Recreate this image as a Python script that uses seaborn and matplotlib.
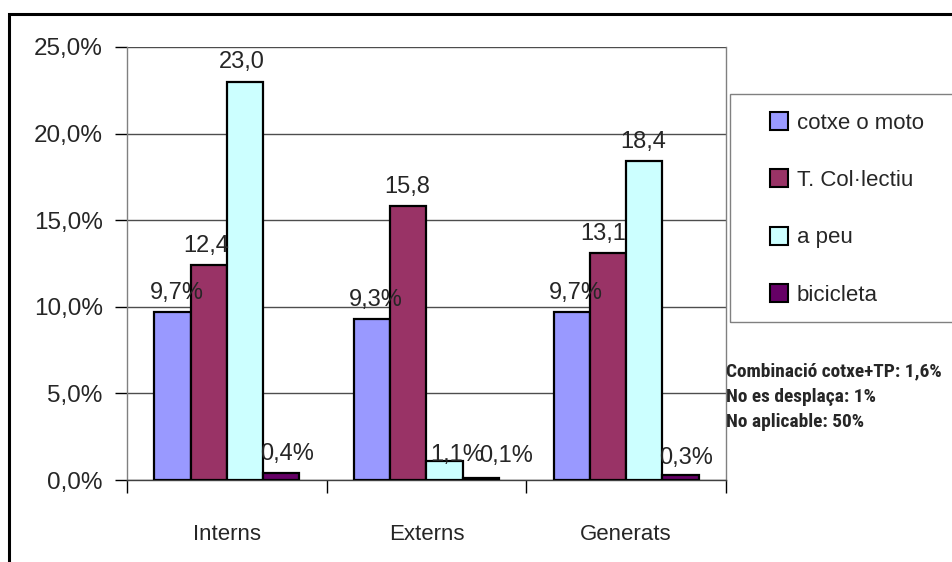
import numpy as np
import pandas as pd
import seaborn as sns
from matplotlib import pyplot as plt, font_manager
from matplotlib.lines import Line2D
from matplotlib.patches import Rectangle
from matplotlib.ticker import FuncFormatter, FixedLocator

zones = ['Interns', 'Externs', 'Generats']
modes = ['cotxe o moto', 'T. Col·lectiu', 'a peu', 'bicicleta']
cotxe = [9.7, 9.3, 9.7]
col_lectiu = [12.4, 15.8, 13.1]
a_peu = [23.0, 1.1, 18.4]
bicicleta = [0.4, 0.1, 0.3]
# labels as they show on the picture (excel cut some of them)
lab_cotxe = ['9,7%', '9,3%', '9,7%']
lab_col = ['12,4', '15,8', '13,1']
lab_peu = ['23,0', '1,1%', '18,4']
lab_bici = ['0,4%', '0,1%', '0,3%']
notes = ['Combinació cotxe+TP: 1,6%', 'No es desplaça: 1%', 'No aplicable: 50%']

palette = ['#9999FF', '#993366', '#CCFFFF', '#660066']
# label shift in pixels (dx, height of baseline above bar top)
shift = [[(4, 13), (4, 13), (4, 13)],
         [(-2, 13), (-1, 13), (-5, 13)],
         [(-3, 14), (13, 0), (-1, 13)],
         [(6, 13), (25, 16), (5, 11)]]

df = pd.DataFrame({
    'zona': zones * 4,
    'mode': np.repeat(modes, 3),
    'pct': cotxe + col_lectiu + a_peu + bicicleta,
})
labels = [lab_cotxe, lab_col, lab_peu, lab_bici]

sns.set_style('white')
plt.rcParams['font.family'] = ['Liberation Sans', 'DejaVu Sans']

# a narrow bold face for the notes, if there is one
note_font, note_stretch = 'DejaVu Sans', 'normal'
for f in font_manager.fontManager.ttflist:
    if f.weight in ('bold', 700) and f.stretch in ('condensed', 'semi-condensed', 'extra-condensed', 75, 87):
        note_font, note_stretch = f.name, f.stretch
        break
for nm in ('Liberation Sans Narrow', 'Roboto Condensed', 'Open Sans Condensed'):
    if nm in {f.name for f in font_manager.fontManager.ttflist}:
        note_font, note_stretch = nm, 'normal'
        break

fig = plt.figure(figsize=(9.53, 5.62), dpi=100)
ax = fig.add_axes([127 / 953, 82 / 562, 599 / 953, 433 / 562])

sns.barplot(data=df, x='zona', y='pct', hue='mode', palette=palette,
            width=4 / 5.5, edgecolor='black', linewidth=1.6,
            saturation=1, legend=False, ax=ax, zorder=3)

for i, cont in enumerate(ax.containers):
    for j, bar in enumerate(cont):
        dx, dy = shift[i][j]
        ax.annotate(labels[i][j],
                    (bar.get_x() + bar.get_width() / 2, bar.get_height()),
                    xytext=(dx, dy), textcoords='offset pixels',
                    ha='center', va='baseline', fontsize=17, zorder=5)

ax.set_ylim(0, 25)
ax.set_xlim(-0.5, 2.5)
ax.yaxis.set_major_locator(FixedLocator([0, 5, 10, 15, 20, 25]))
ax.yaxis.set_major_formatter(FuncFormatter(lambda v, p: f'{v:.1f}%'.replace('.', ',')))
ax.grid(axis='y', color='#4d4d4d', linewidth=1)
ax.set_axisbelow(True)
ax.tick_params(axis='y', direction='out', length=9, width=1, color='black',
               pad=8.5, labelsize=17.5, left=True)
ax.xaxis.set_minor_locator(FixedLocator([-0.5, 0.5, 1.5, 2.5]))
ax.tick_params(axis='x', which='major', length=0, pad=32, labelsize=16)
ax.tick_params(axis='x', which='minor', direction='out', length=9, width=1,
               color='black', bottom=True)
ax.set_xlabel('')
ax.set_ylabel('')
ax.spines['top'].set_visible(False)
ax.spines['left'].set_color('#808080')
ax.spines['right'].set_color('#808080')
ax.spines['bottom'].set_color('#404040')
for s in ax.spines.values():
    s.set_linewidth(1)

# legend box, goes past the right edge as in the picture
fig.patches.append(Rectangle((730 / 953, 1 - 322 / 562), 0.3, 228 / 562,
                             transform=fig.transFigure, fill=False,
                             edgecolor='#808080', linewidth=1))
handles = [Line2D([], [], marker='s', linestyle='', markersize=13,
                  markerfacecolor=c, markeredgecolor='black',
                  markeredgewidth=1.5) for c in palette]
fig.legend(handles, modes, loc='upper left',
           bbox_to_anchor=(768 / 953, 1 - 113 / 562), frameon=False,
           borderpad=0, borderaxespad=0, handlelength=1, handletextpad=0.3,
           labelspacing=1.63, fontsize=16)

note_texts = [fig.text(726 / 953, 1 - (376 + 25.5 * k) / 562, line,
                       family=note_font, fontstretch=note_stretch,
                       fontsize=14, fontweight='bold', va='baseline', ha='left')
              for k, line in enumerate(notes)]
# fit the first note line to the width it has in the picture
renderer = fig.canvas.get_renderer()
w = note_texts[0].get_window_extent(renderer).width
size = min(15, 14 * 216 / w)
for t in note_texts:
    t.set_fontsize(size)

# outer frame of the chart
fig.patches.append(Rectangle((9.5 / 953, -0.1), 1.2, 1.1 - 14 / 562,
                             transform=fig.transFigure, fill=False,
                             edgecolor='black', linewidth=2.2))

fig.savefig('out.png', dpi=100)
